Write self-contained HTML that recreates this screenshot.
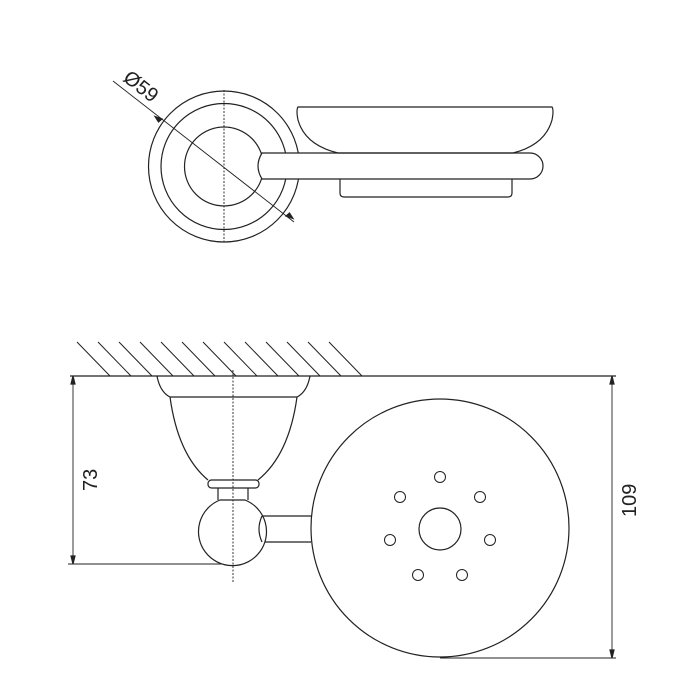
<!DOCTYPE html>
<html><head><style>body{margin:0;background:#fff}svg{display:block}</style></head>
<body>
<svg width="700" height="700" viewBox="0 0 700 700" xmlns="http://www.w3.org/2000/svg" fill="none" stroke="#222" stroke-width="1.2" font-family="Liberation Sans, sans-serif">
<!-- TOP VIEW -->
<circle cx="224" cy="166.5" r="75.5"/>
<circle cx="224" cy="166.5" r="63"/>
<circle cx="224" cy="166.5" r="39.5"/>
<line x1="224" y1="90" x2="224" y2="243" stroke-dasharray="2,1.5" stroke-width="0.9"/>
<line x1="113" y1="81" x2="294" y2="222" stroke-width="0.9"/>
<path d="M162,119 l-7,-2.5 l3.5,5.5z M286,216 l7,2.5 l-3.5,-5.5z" fill="#222"/>
<text x="0" y="0" fill="#222" stroke="none" font-size="20" transform="translate(122,80) rotate(38)">Ø59</text>
<!-- arm -->
<path d="M262,153 H530 A13,13 0 0 1 530,179 H262 Q254,166 262,153 Z" fill="#fff"/>
<!-- dish -->
<path d="M298,107 H552 Q554,110 552,120 Q545,145 513,153 H338 Q305,145 298,120 Q296,110 298,107 Z"/>
<path d="M340,179 V193 Q340,197 344,197 H508 Q512,197 512,193 V179"/>
<!-- SIDE VIEW -->
<g stroke-width="1">
<path d="M77,342 L110,376 M98,342 L131,376 M119,342 L152,376 M140,342 L173,376 M161,342 L194,376 M182,342 L215,376 M203,342 L236,376 M224,342 L257,376 M245,342 L278,376 M266,342 L299,376 M287,342 L320,376 M308,342 L341,376 M329,342 L362,376"/>
</g>
<line x1="70" y1="376" x2="616" y2="376"/>
<!-- dim 73 -->
<line x1="73" y1="376" x2="73" y2="564" stroke-width="0.9"/>
<path d="M73,376 l-2,8 h4z M73,564 l-2,-8 h4z" fill="#222"/>
<line x1="68" y1="564" x2="232" y2="564" stroke-width="0.9"/>
<text fill="#222" stroke="none" font-size="20" transform="translate(97,491) rotate(-90)">73</text>
<!-- dim 109 -->
<line x1="612" y1="376" x2="612" y2="658" stroke-width="0.9"/>
<path d="M612,376 l-2,8 h4z M612,658 l-2,-8 h4z" fill="#222"/>
<line x1="440" y1="658" x2="616" y2="658" stroke-width="0.9"/>
<text fill="#222" stroke="none" font-size="20" transform="translate(636,517) rotate(-90)">109</text>
<!-- bracket -->
<path d="M157,376 Q160,392 170,397 H297 Q307,392 310,376"/>
<path d="M170,397 Q178,455 208,480 M297,397 Q289,455 258,480"/>
<rect x="208" y="480" width="51" height="8" rx="3.5"/>
<path d="M218,488 V500 M248,488 V500"/>
<path d="M262,516 H311 M262,542 H311"/>
<path d="M220,500 H245 A34,34 0 1 1 220,500 Z" fill="#fff"/>
<path d="M262,516 Q256,529 262,542"/>
<line x1="233" y1="370" x2="233" y2="582" stroke-dasharray="2,1.5" stroke-width="0.9"/>
<!-- plate -->
<circle cx="440" cy="528" r="129"/>
<circle cx="440" cy="529" r="21"/>
<g stroke-width="1">
<circle cx="440" cy="477" r="5.5"/><circle cx="400" cy="497" r="5.5"/><circle cx="480" cy="497" r="5.5"/>
<circle cx="390" cy="540" r="5.5"/><circle cx="490" cy="540" r="5.5"/>
<circle cx="418" cy="575" r="5.5"/><circle cx="462" cy="575" r="5.5"/>
</g>
</svg>
</body></html>
